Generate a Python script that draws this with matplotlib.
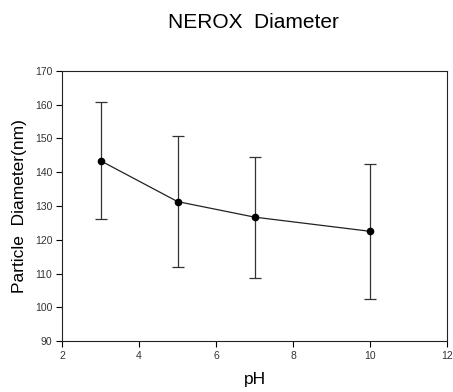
import matplotlib
matplotlib.use("Agg")
import matplotlib.pyplot as plt

plt.rcParams['font.family'] = ['Liberation Sans', 'DejaVu Sans']

ph = [3, 5, 7, 10]
diameter = [143.4, 131.3, 126.7, 122.5]
err = [17.3, 19.3, 17.9, 19.9]

fig = plt.figure(figsize=(4.53, 3.92), dpi=100)
ax = fig.add_axes([0.137, 0.130, 0.850, 0.689])
ax.errorbar(ph, diameter, yerr=err, color='#222222', ecolor='#333333', elinewidth=0.9,
            capsize=4, capthick=0.9, lw=0.9, marker='o', ms=4.5, mfc='black', mec='black')
ax.set_xlim(2, 12)
ax.set_ylim(90, 170)
ax.set_xticks([2, 4, 6, 8, 10, 12])
ax.set_yticks(range(90, 171, 10))
ax.tick_params(direction='out', length=4, width=0.8, labelsize=7.5, labelcolor='#333333', pad=3)
for s in ax.spines.values():
    s.set_linewidth(0.8)
    s.set_color('#222222')
ax.set_xlabel('pH', fontsize=12.5, labelpad=8)
ax.set_ylabel('Particle  Diameter(nm)', fontsize=12.5, labelpad=6)
fig.text(0.56, 0.943, 'NEROX  Diameter', ha='center', va='center', fontsize=15)
fig.savefig('out.png', dpi=100)
